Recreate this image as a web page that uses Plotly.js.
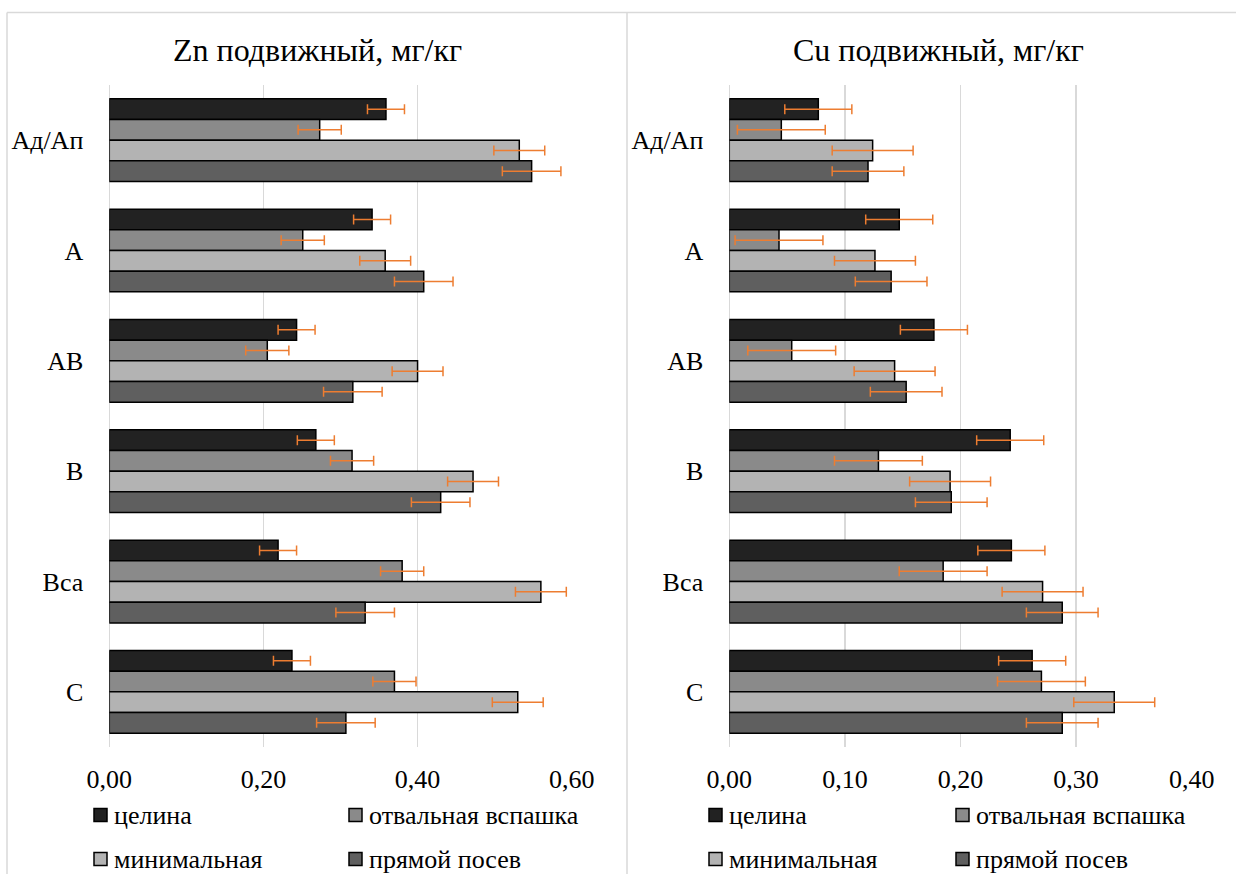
<!DOCTYPE html>
<html>
<head>
<meta charset="utf-8">
<script src="https://cdn.plot.ly/plotly-3.0.1.min.js"></script>
<style>html,body{margin:0;padding:0;background:#fff;}#chart{width:1236px;height:874px;}</style>
</head>
<body>
<div id="chart"></div>
<script>
// ---- data ----
const categories = ['Ад/Ап', 'А', 'АВ', 'В', 'Вса', 'С'];
const seriesNames = ['целина', 'отвальная вспашка', 'минимальная', 'прямой посев'];

// Zn подвижный, мг/кг
const znCelina   = [0.359, 0.341, 0.243, 0.268, 0.219, 0.237];
const znOtval    = [0.273, 0.251, 0.205, 0.315, 0.380, 0.370];
const znMinimal  = [0.532, 0.358, 0.400, 0.472, 0.560, 0.530];
const znPryamoy  = [0.548, 0.408, 0.316, 0.430, 0.332, 0.307];
const znCelinaErr  = [0.024, 0.024, 0.024, 0.024, 0.024, 0.024];
const znOtvalErr   = [0.028, 0.028, 0.028, 0.028, 0.028, 0.028];
const znMinimalErr = [0.033, 0.033, 0.033, 0.033, 0.033, 0.033];
const znPryamoyErr = [0.038, 0.038, 0.038, 0.038, 0.038, 0.038];

// Cu подвижный, мг/кг
const cuCelina   = [0.077, 0.147, 0.177, 0.243, 0.244, 0.262];
const cuOtval    = [0.045, 0.043, 0.054, 0.129, 0.185, 0.270];
const cuMinimal  = [0.124, 0.126, 0.143, 0.191, 0.271, 0.333];
const cuPryamoy  = [0.120, 0.140, 0.153, 0.192, 0.288, 0.288];
const cuCelinaErr  = [0.029, 0.029, 0.029, 0.029, 0.029, 0.029];
const cuOtvalErr   = [0.038, 0.038, 0.038, 0.038, 0.038, 0.038];
const cuMinimalErr = [0.035, 0.035, 0.035, 0.035, 0.035, 0.035];
const cuPryamoyErr = [0.031, 0.031, 0.031, 0.031, 0.031, 0.031];

const titles = ['Zn подвижный, мг/кг', 'Cu подвижный, мг/кг'];

// ---- styles ----
const W = 1236, H = 874;
const FONT = 'Liberation Serif, Times New Roman, serif';
const colors = ['#222222', '#8a8a8a', '#b3b3b3', '#5f5f5f'];
const errColor = '#ED7D31';

const znVals = [znCelina, znOtval, znMinimal, znPryamoy];
const znErrs = [znCelinaErr, znOtvalErr, znMinimalErr, znPryamoyErr];
const cuVals = [cuCelina, cuOtval, cuMinimal, cuPryamoy];
const cuErrs = [cuCelinaErr, cuOtvalErr, cuMinimalErr, cuPryamoyErr];

const px = v => v / W;
const py = v => 1 - v / H;

const traces = [];
const annotations = [];
const shapes = [];

// legend slots (px): square left edge per column, row centers
const legendSquareX = [[94, 349], [709, 956]];
const legendRowsY = [815, 859];
const SQ = 13;

function addPanel(vals, errs, xa, ya, panel) {
  vals.forEach((v, i) => {
    traces.push({
      type: 'bar', orientation: 'h',
      name: seriesNames[i],
      y: categories, x: v,
      xaxis: xa, yaxis: ya,
      marker: {color: colors[i], line: {color: '#000000', width: 1.5}},
      error_x: {type: 'data', array: errs[i], visible: true, color: errColor, thickness: 1.5, width: 5},
      showlegend: false,
      hoverinfo: 'x+name'
    });
    // legend entry (2x2 grid under each panel)
    const sx = legendSquareX[panel][i % 2];
    const cy = legendRowsY[Math.floor(i / 2)];
    shapes.push({type: 'rect', xref: 'paper', yref: 'paper',
      x0: px(sx), x1: px(sx + SQ), y0: py(cy + SQ / 2), y1: py(cy - SQ / 2),
      fillcolor: colors[i], line: {color: '#000000', width: 1.5}});
    annotations.push({text: seriesNames[i], xref: 'paper', yref: 'paper',
      x: px(sx + SQ + 5), y: py(cy), xanchor: 'left', yanchor: 'middle', showarrow: false,
      font: {family: FONT, size: 26, color: '#000000'}});
  });
}
addPanel(znVals, znErrs, 'x', 'y', 0);
addPanel(cuVals, cuErrs, 'x2', 'y2', 1);

annotations.push(
  {text: titles[0], xref: 'paper', yref: 'paper', x: px(317), y: py(50), xanchor: 'center', yanchor: 'middle', showarrow: false, font: {family: FONT, size: 32, color: '#000000'}},
  {text: titles[1], xref: 'paper', yref: 'paper', x: px(938), y: py(50), xanchor: 'center', yanchor: 'middle', showarrow: false, font: {family: FONT, size: 32, color: '#000000'}}
);
shapes.push(
  {type: 'line', xref: 'paper', yref: 'paper', x0: px(7), x1: 1, y0: py(12.5), y1: py(12.5), line: {color: '#d9d9d9', width: 1.5}},
  {type: 'line', xref: 'paper', yref: 'paper', x0: px(7), x1: px(7), y0: py(12.5), y1: 0, line: {color: '#d9d9d9', width: 1.5}},
  {type: 'line', xref: 'paper', yref: 'paper', x0: px(627), x1: px(627), y0: py(12.5), y1: 0, line: {color: '#d9d9d9', width: 1.5}}
);

const yDomain = [py(747), py(85)];
const xAxisCommon = {
  showgrid: true, gridcolor: '#d9d9d9', gridwidth: 1.5,
  zeroline: true, zerolinecolor: '#d9d9d9', zerolinewidth: 1.5,
  showline: false, ticks: '', tickformat: '.2f',
  tickfont: {family: FONT, size: 26, color: '#000000'},
  ticklabelstandoff: 14, fixedrange: true
};
const yAxisCommon = {
  type: 'category', autorange: 'reversed', domain: yDomain,
  showgrid: false, zeroline: false, showline: false, ticks: '',
  tickfont: {family: FONT, size: 26, color: '#000000'},
  ticklabelstandoff: 25, fixedrange: true
};

const layout = {
  width: W, height: H,
  margin: {l: 0, r: 0, t: 0, b: 0},
  paper_bgcolor: '#ffffff', plot_bgcolor: '#ffffff',
  separators: ', ',
  showlegend: false,
  barmode: 'group', bargap: 0.25, bargroupgap: 0,
  font: {family: FONT, size: 26, color: '#000000'},
  xaxis: Object.assign({}, xAxisCommon, {domain: [px(109.3), px(571.7)], range: [0, 0.6], dtick: 0.2, anchor: 'y'}),
  yaxis: Object.assign({}, yAxisCommon, {anchor: 'x'}),
  xaxis2: Object.assign({}, xAxisCommon, {domain: [px(729.3), px(1191.7)], range: [0, 0.4], dtick: 0.1, anchor: 'y2'}),
  yaxis2: Object.assign({}, yAxisCommon, {anchor: 'x2'}),
  annotations: annotations,
  shapes: shapes
};

Plotly.newPlot('chart', traces, layout, {displayModeBar: false, staticPlot: true});
</script>
</body>
</html>
